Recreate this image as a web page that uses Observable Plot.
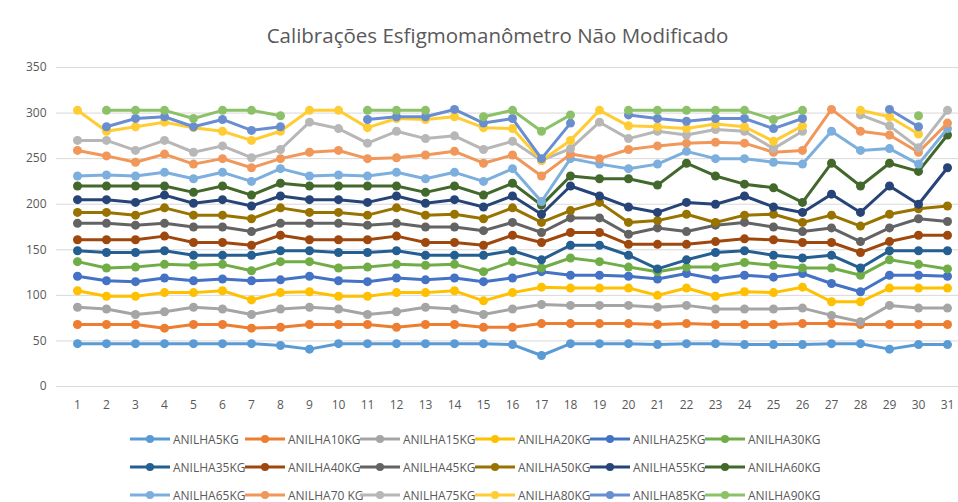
<!DOCTYPE html>
<html><head><meta charset="utf-8">
<script src="https://cdn.jsdelivr.net/npm/d3@7"></script>
<script src="https://cdn.jsdelivr.net/npm/@observablehq/plot@0.6"></script>
<style>
body{margin:0;background:#fff;font-family:"Open Sans",sans-serif;width:958px;height:502px;overflow:hidden;}
#title{height:50px;box-sizing:border-box;padding-top:23px;padding-left:37px;text-align:center;font-size:20.5px;line-height:24px;color:#595959;white-space:nowrap;}
#chart{height:375px;}
#legend{padding-left:130px;}
.row{height:28px;display:flex;align-items:center;}
.item{width:115px;display:flex;align-items:center;font-size:12px;color:#595959;white-space:nowrap;}
.item svg{margin-right:3px;flex:none;}
</style></head><body>
<div id="title">Calibrações Esfigmomanômetro Não Modificado</div>
<div id="chart"></div>
<div id="legend"></div>
<script>
const days = ["1","2","3","4","5","6","7","8","9","10","11","12","13","14","15","16","17","18","19","20","21","22","23","24","25","26","27","28","29","30","31"];
const yTicks = [0,50,100,150,200,250,300,350];

const seriesNames = ["ANILHA5KG","ANILHA10KG","ANILHA15KG","ANILHA20KG","ANILHA25KG","ANILHA30KG","ANILHA35KG","ANILHA40KG","ANILHA45KG","ANILHA50KG","ANILHA55KG","ANILHA60KG","ANILHA65KG","ANILHA70 KG","ANILHA75KG","ANILHA80KG","ANILHA85KG","ANILHA90KG"];
const seriesColors = ["#5B9BD5","#ED7D31","#A5A5A5","#FFC000","#4472C4","#70AD47","#255E91","#9E480E","#636363","#997300","#264478","#43682B","#7CAFDD","#F1975A","#B7B7B7","#FFCD33","#698ED0","#8CC168"];

const anilha5  = [47,47,47,47,47,47,47,45,41,47,47,47,47,47,47,46,34,47,47,47,46,47,47,46,46,46,47,47,41,46,46];
const anilha10 = [68,68,68,64,68,68,64,65,68,68,68,65,68,68,65,65,69,69,69,69,68,69,68,68,68,69,69,68,68,68,68];
const anilha15 = [87,85,79,82,87,85,79,85,87,85,79,82,87,85,79,85,90,89,89,89,87,89,85,85,85,86,78,71,89,86,86];
const anilha20 = [105,99,99,103,103,105,95,103,104,99,99,103,103,105,94,103,109,108,108,108,100,108,99,104,103,109,93,93,108,108,108];
const anilha25 = [121,116,115,119,116,118,116,117,121,116,115,119,117,119,115,119,126,122,122,121,118,124,118,122,120,124,113,104,122,122,121];
const anilha30 = [137,130,131,134,133,134,127,137,137,130,131,134,133,134,126,137,130,141,137,131,126,131,131,136,133,130,130,122,139,134,129];
const anilha35 = [149,147,147,149,144,144,144,149,149,147,147,149,144,144,144,149,139,155,155,144,129,139,147,149,144,141,144,130,149,149,149];
const anilha40 = [161,161,161,165,158,158,155,166,161,161,161,165,158,158,155,166,158,169,169,156,156,156,159,162,161,158,158,147,159,166,166];
const anilha45 = [179,179,177,179,175,175,170,179,179,179,177,179,175,175,171,180,169,185,185,167,174,170,177,180,175,170,174,159,174,184,181];
const anilha50 = [191,191,188,196,188,188,184,196,191,191,188,196,188,189,184,196,180,193,202,180,182,189,180,188,189,180,188,176,189,195,198];
const anilha55 = [205,205,202,210,201,205,198,209,205,205,202,209,201,205,197,209,189,220,209,197,191,202,200,209,197,191,211,191,220,200,240];
const anilha60 = [220,220,220,220,213,220,210,223,220,220,220,220,213,220,210,223,199,231,228,228,221,245,231,222,218,202,245,220,245,236,276];
const anilha65 = [231,232,231,235,228,235,225,239,231,232,231,235,228,235,225,239,203,250,244,239,244,258,250,250,246,244,280,259,261,244,283];
const anilha70 = [259,253,246,255,244,250,240,250,257,259,250,251,254,258,245,254,231,255,250,260,264,267,268,267,257,259,304,280,276,257,289];
const anilha75 = [270,270,259,270,257,264,251,260,290,283,267,280,272,275,260,269,248,261,290,272,280,276,282,280,261,280,null,298,286,262,303];
const anilha80 = [303,280,285,290,284,280,270,280,303,303,284,294,293,296,284,283,248,270,303,286,285,283,288,285,269,286,null,303,296,277,null];
const anilha85 = [null,285,294,296,285,293,281,285,null,null,293,296,296,304,289,294,250,289,null,298,294,291,294,294,283,294,null,null,304,285,null];
const anilha90 = [null,303,303,303,294,303,303,297,null,null,303,303,303,null,296,303,280,298,null,303,303,303,303,303,293,303,null,null,null,297,null];

const seriesValues = [anilha5,anilha10,anilha15,anilha20,anilha25,anilha30,anilha35,anilha40,anilha45,anilha50,anilha55,anilha60,anilha65,anilha70,anilha75,anilha80,anilha85,anilha90];

const seriesMarks = [];
seriesNames.forEach((name, i) => {
  const rows = days.map((d, j) => ({day: d, value: seriesValues[i][j] == null ? NaN : seriesValues[i][j], series: name}));
  seriesMarks.push(Plot.lineY(rows, {x: "day", y: "value", stroke: "series", strokeWidth: 3, strokeLinejoin: "round", strokeLinecap: "round"}));
  seriesMarks.push(Plot.dot(rows.filter(r => !isNaN(r.value)), {x: "day", y: "value", fill: "series", r: 4.5, stroke: null}));
});

const chart = Plot.plot({
  width: 958, height: 375,
  marginLeft: 56, marginRight: 0, marginTop: 17, marginBottom: 39,
  style: {fontFamily: "'Open Sans', sans-serif", fontSize: "12px", color: "#595959", background: "white"},
  x: {type: "point", domain: days, range: [71, 952], padding: 0},
  y: {domain: [0, 350]},
  color: {domain: seriesNames, range: seriesColors},
  marks: [
    Plot.gridY(yTicks, {stroke: "#d9d9d9", strokeOpacity: 1, strokeWidth: 1}),
    Plot.axisY(yTicks, {tickSize: 0, tickPadding: 10, label: null, fill: "#595959"}),
    Plot.axisX(days, {tickSize: 0, tickPadding: 14, label: null, fill: "#595959"}),
    ...seriesMarks
  ]
});
document.getElementById("chart").appendChild(chart);

const legend = document.getElementById("legend");
for (let r = 0; r < 3; r++) {
  const row = document.createElement("div");
  row.className = "row";
  for (let c = 0; c < 6; c++) {
    const i = r * 6 + c;
    const item = document.createElement("div");
    item.className = "item";
    item.innerHTML = `<svg width="40" height="12"><line x1="0" x2="40" y1="6" y2="6" stroke="${seriesColors[i]}" stroke-width="3"/><circle cx="20" cy="6" r="4" fill="${seriesColors[i]}"/></svg><span>${seriesNames[i]}</span>`;
    row.appendChild(item);
  }
  legend.appendChild(row);
}
</script>
</body></html>
